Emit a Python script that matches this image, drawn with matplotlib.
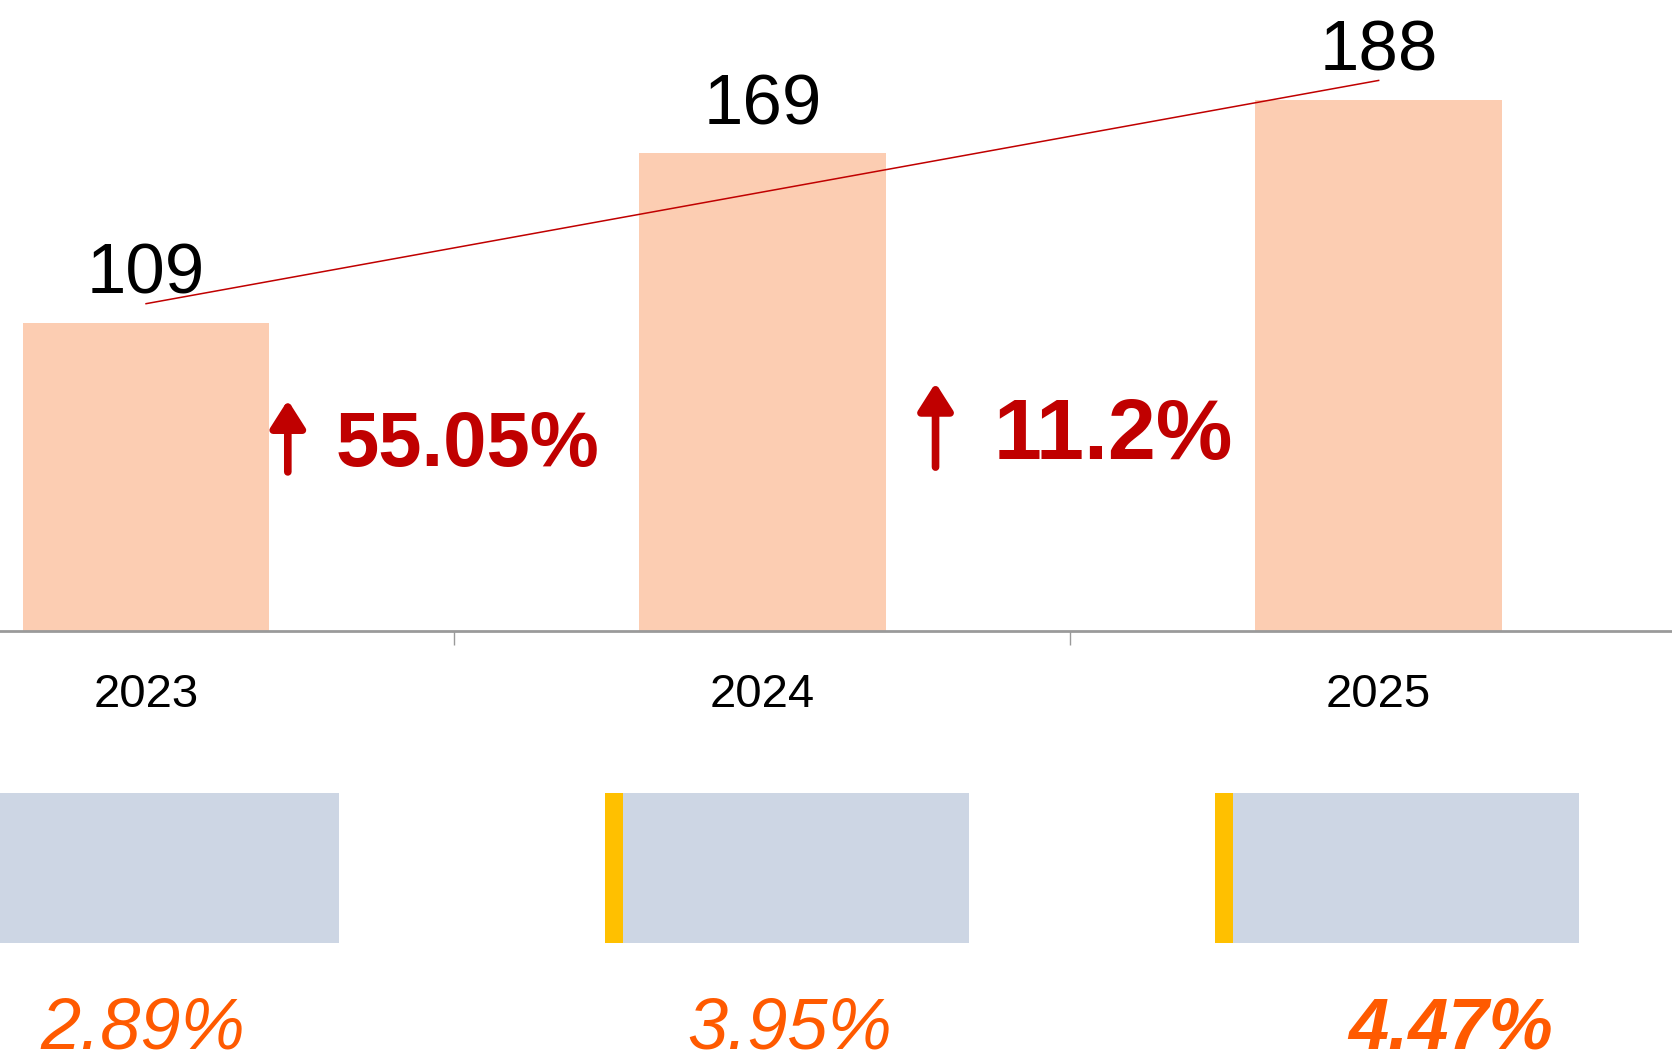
import matplotlib.pyplot as plt
import numpy as np

# data
years = ["2023", "2024", "2025"]
values = [109, 169, 188]
growth_labels = ["55.05%", "11.2%"]
share_labels = ["2.89%", "3.95%", "4.47%"]

BAR_COLOR = "#FCCDB2"
LINE_COLOR = "#C00000"
BOX_COLOR = "#CDD6E4"
STRIPE_COLOR = "#FFC000"
PCT_COLOR = "#FF5A00"

plt.rcParams["font.family"] = ["Liberation Sans", "DejaVu Sans"]

fig = plt.figure(figsize=(16.72, 10.64), dpi=100)
x = np.arange(len(years))
xlim = (-0.237, 2.476)

# upper chart: bars, value labels, trendline
ax = fig.add_axes([0, 1 - 631 / 1064, 1, 631 / 1064])
ax.bar(x, values, width=0.4, color=BAR_COLOR)
ax.set_xlim(*xlim)
ax.set_ylim(0, 223.3)

for xi, v in zip(x, values):
    ax.annotate(str(v), (xi, v), xytext=(0, 29), textcoords="offset pixels",
                ha="center", va="baseline", fontsize=51, color="black")

slope, icpt = np.polyfit(x, values, 1)
ax.plot([x[0], x[-1]], [icpt, icpt + slope * x[-1]], color=LINE_COLOR, lw=1.1)

# growth markers: arrow + bold percentage between the bars
arrow_x = [0.230, 1.281]
arrow_y = [(56.3, 81.7), (58.0, 87.8)]
text_x = [0.308, 1.375]
text_y = [58.4, 60.9]
text_size = [56, 62]
for axx, (y0, y1), tx, ty, s, lab in zip(arrow_x, arrow_y, text_x, text_y,
                                         text_size, growth_labels):
    ax.annotate("", xy=(axx, y1), xytext=(axx, y0),
                arrowprops=dict(arrowstyle="-|>,head_length=0.55,head_width=0.35",
                                color=LINE_COLOR, lw=5.5, mutation_scale=30,
                                shrinkA=0, shrinkB=0))
    ax.text(tx, ty, lab, ha="left", va="baseline", fontsize=s,
            fontweight="bold", color=LINE_COLOR)

for side in ["top", "left", "right"]:
    ax.spines[side].set_visible(False)
ax.spines["bottom"].set_color("#9A9A9A")
ax.spines["bottom"].set_linewidth(2)
ax.set_yticks([])
ax.set_xticks([0.5, 1.5])
ax.set_xticklabels([])
ax.tick_params(axis="x", which="major", length=10, width=1, color="#9A9A9A")
ax.set_xticks(x, minor=True)
ax.set_xticklabels(years, minor=True, fontsize=34)
ax.tick_params(axis="x", which="minor", length=0, pad=30)

# lower strip: boxes with percentages
lax = fig.add_axes([0, 0, 1, 319 / 1064])
lax.set_xlim(*xlim)
lax.set_ylim(0, 1)
lax.axis("off")
box_w = 0.59
box_c = x + np.array([0.018, 0.04, 0.03])
lax.bar(box_c, 0.47, bottom=0.38, width=box_w, color=BOX_COLOR)
lax.bar(box_c - box_w / 2, 0.47, bottom=0.38, width=0.029, align="edge",
        color=STRIPE_COLOR)

pct_x = [-0.005, 1.045, 2.117]
pct_weight = ["normal", "normal", "bold"]
for px, lab, w in zip(pct_x, share_labels, pct_weight):
    lax.text(px, 0.05, lab, ha="center", va="baseline", fontsize=52,
             style="italic", fontweight=w, color=PCT_COLOR)

fig.savefig("out.png", dpi=100)
